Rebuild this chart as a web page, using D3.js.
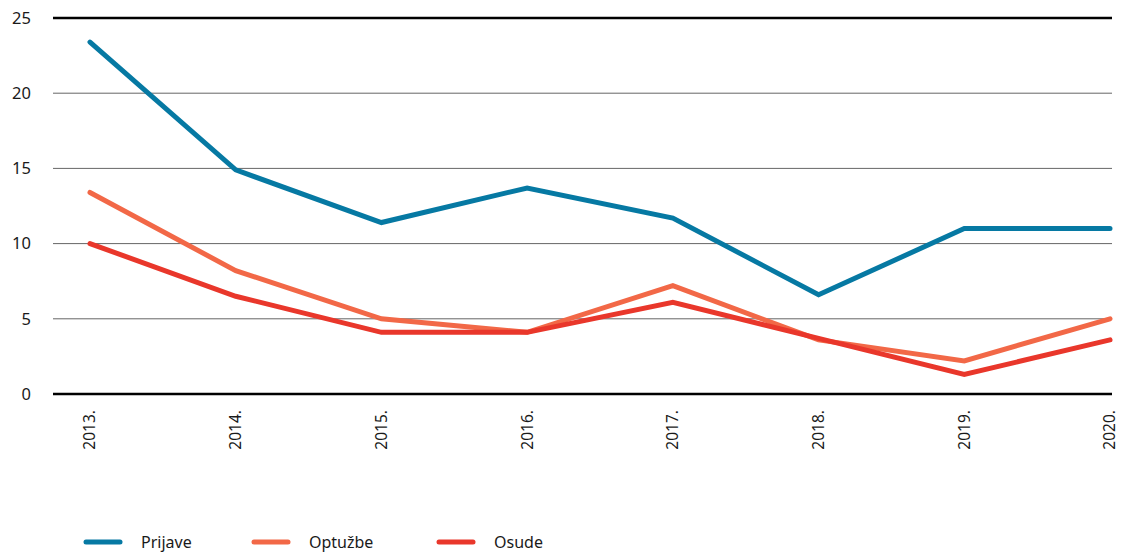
<!DOCTYPE html>
<meta charset="utf-8">
<title>Prijave, optužbe, osude</title>
<script src="https://cdn.jsdelivr.net/npm/d3@7"></script>
<style>
body { margin: 0; background: #fff; }
text { font-family: "Noto Sans", "Open Sans", sans-serif; fill: #1a1a1a; }
</style>
<body>
<script>

var years = ["2013.", "2014.", "2015.", "2016.", "2017.", "2018.", "2019.", "2020."];
var prijave = [23.4, 14.9, 11.4, 13.7, 11.7, 6.6, 11.0, 11.0];
var optuzbe = [13.4, 8.2, 5.0, 4.1, 7.2, 3.6, 2.2, 5.0];
var osude = [10.0, 6.5, 4.1, 4.1, 6.1, 3.7, 1.3, 3.6];
var yTicks = [0, 5, 10, 15, 20, 25];

var seriesNames = ["Prijave", "Optužbe", "Osude"];
var seriesColors = ["#0679a3", "#f26847", "#e9372b"];
var seriesData = [prijave, optuzbe, osude];

var width = 1122, height = 554;

var svg = d3.select("body").append("svg")
    .attr("width", width)
    .attr("height", height);

var x = d3.scalePoint()
    .domain(years)
    .range([90, 1110]);

var y = d3.scaleLinear()
    .domain([0, 25])
    .range([394, 18]);

// grid lines
svg.append("g")
  .selectAll("line")
  .data(yTicks)
  .enter().append("line")
    .attr("x1", 53)
    .attr("x2", 1112)
    .attr("y1", function(d) { return y(d); })
    .attr("y2", function(d) { return y(d); })
    .attr("stroke", function(d) { return (d == 0 || d == 25) ? "#000" : "#666"; })
    .attr("stroke-width", function(d) { return (d == 0 || d == 25) ? 2.5 : 1; });

// y labels
svg.append("g")
  .selectAll("text")
  .data(yTicks)
  .enter().append("text")
    .attr("x", 31)
    .attr("y", function(d) { return y(d); })
    .attr("dy", "0.35em")
    .attr("text-anchor", "end")
    .attr("font-size", "16.5px")
    .text(function(d) { return d; });

// x labels, rotated
svg.append("g")
  .selectAll("text")
  .data(years)
  .enter().append("text")
    .attr("transform", function(d) { return "translate(" + x(d) + ",410) rotate(-90)"; })
    .attr("dy", "0.35em")
    .attr("text-anchor", "end")
    .attr("font-size", "15.5px")
    .text(function(d) { return d; });

var line = d3.line()
    .x(function(d, i) { return x(years[i]); })
    .y(function(d) { return y(d); });

svg.append("g")
  .selectAll("path")
  .data(seriesData)
  .enter().append("path")
    .attr("d", line)
    .attr("fill", "none")
    .attr("stroke", function(d, i) { return seriesColors[i]; })
    .attr("stroke-width", 5)
    .attr("stroke-linecap", "round")
    .attr("stroke-linejoin", "miter");

// legend
var legendX = [86, 254, 439];
var legend = svg.append("g")
  .selectAll("g")
  .data(seriesNames)
  .enter().append("g")
    .attr("transform", function(d, i) { return "translate(" + legendX[i] + ",542)"; });

legend.append("line")
    .attr("x1", 0)
    .attr("x2", 34)
    .attr("stroke", function(d, i) { return seriesColors[i]; })
    .attr("stroke-width", 5)
    .attr("stroke-linecap", "round");

legend.append("text")
    .attr("x", 55)
    .attr("dy", "0.35em")
    .attr("font-size", "16px")
    .text(function(d) { return d; });

</script>
</body>
</html>
